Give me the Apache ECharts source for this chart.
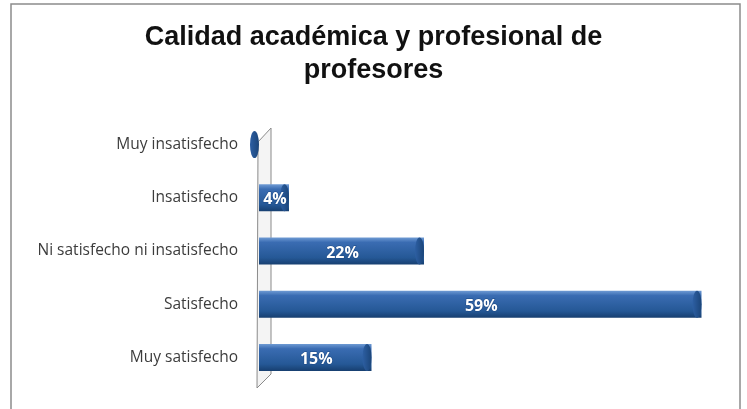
<!DOCTYPE html>
<html><head><meta charset="utf-8">
<script src="https://cdn.jsdelivr.net/npm/echarts@6/dist/echarts.min.js"></script>
<style>html,body{margin:0;padding:0;background:#fff}#c{width:747px;height:409px}</style>
</head><body><div id="c"></div>
<script>
var categories = ['Muy insatisfecho', 'Insatisfecho', 'Ni satisfecho ni insatisfecho', 'Satisfecho', 'Muy satisfecho'];
var values = [0, 4, 22, 59, 15];
var titleText = 'Calidad académica y profesional de\nprofesores';

var chart = echarts.init(document.getElementById('c'));
var gridLeft = 259, gridTop = 118, gridBottom = 25, gridRight = 38;
var barGrad = new echarts.graphic.LinearGradient(0, 0, 0, 1, [
  {offset: 0, color: '#6f9bd4'},
  {offset: 0.18, color: '#3a6cb2'},
  {offset: 0.75, color: '#255896'},
  {offset: 1, color: '#173f70'}
]);
var capGrad = new echarts.graphic.LinearGradient(0, 0, 1, 0, [
  {offset: 0, color: '#2d5fa3'},
  {offset: 1, color: '#1b4579'}
]);
chart.setOption({
  animation: false,
  title: {
    text: titleText, left: 'center', top: 16,
    textStyle: {fontFamily: 'Liberation Sans', fontWeight: 'bold', fontSize: 27, color: '#111', lineHeight: 33}
  },
  grid: {left: gridLeft, right: gridRight, top: gridTop, bottom: gridBottom},
  xAxis: {type: 'value', min: 0, max: 60, show: false},
  yAxis: {
    type: 'category', data: categories, inverse: true,
    axisLine: {show: false}, axisTick: {show: false},
    axisLabel: {fontFamily: 'Open Sans', fontSize: 15.5, color: '#3c3c3c', margin: 21}
  },
  series: [{
    type: 'bar', data: values, barWidth: 27, z: 3,
    itemStyle: {color: barGrad}
  }, {
    type: 'pictorialBar', data: values, symbol: 'circle', symbolSize: [9, 27],
    symbolPosition: 'end', z: 4,
    itemStyle: {color: capGrad}, silent: true
  }, {
    type: 'bar', data: values, barWidth: 27, barGap: '-100%', z: 5, silent: true,
    itemStyle: {color: 'rgba(0,0,0,0)'},
    label: {
      show: true, position: 'inside', offset: [1, 2],
      formatter: function (p) { return p.value ? p.value + '%' : ''; },
      fontFamily: 'Open Sans', fontWeight: 'bold', fontSize: 16, color: '#fff',
      textBorderColor: '#1d4a86', textBorderWidth: 1
    }
  }]
});

function drawDecor() {
  var x0 = chart.convertToPixel({xAxisIndex: 0}, 0);
  var yTop = gridTop + 10, yBot = 409 - gridBottom + 4;
  chart.setOption({
    graphic: [{
      type: 'rect', shape: {x: 11, y: 4, width: 729, height: 420},
      style: {fill: 'none', stroke: '#8c8c8c', lineWidth: 1.5}, silent: true
    }, {
      type: 'polygon', z: 1,
      shape: {points: [[x0 - 1, yTop + 14], [x0 + 12, yTop], [x0 + 12, yBot - 14], [x0 - 2, yBot]]},
      style: {fill: '#f4f4f4', stroke: '#8a8a8a', lineWidth: 1}, silent: true
    }]
  });
}
drawDecor();
</script></body></html>
